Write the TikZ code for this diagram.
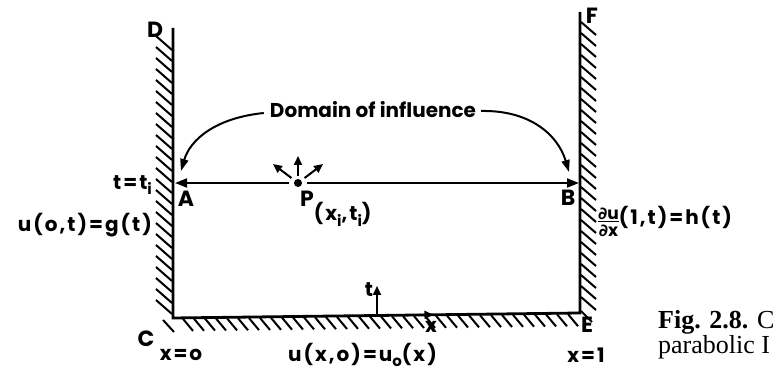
\documentclass[tikz,border=0pt]{standalone}
\usepackage{fontspec}
\setmainfont{Liberation Serif}
\setsansfont{Poppins}
\newfontfamily\spaced{Poppins}[LetterSpace=10]
\newfontfamily\dvs{DejaVu Sans}
\usetikzlibrary{arrows.meta,calc}
\newcommand{\lowsub}[1]{\raisebox{-0.5ex}{\fontsize{15}{15}\selectfont #1}}
\begin{document}
\begin{tikzpicture}[x=1pt,y=-1pt,
  wall/.style={line width=2.8pt},
  hatch/.style={line width=2pt},
  lbl/.style={font=\sffamily\bfseries\fontsize{20}{20}\selectfont, inner sep=0pt},
  flbl/.style={font=\spaced\bfseries\fontsize{20}{20}\selectfont, inner sep=0pt},
  big/.style={font=\sffamily\bfseries\fontsize{22}{22}\selectfont, inner sep=0pt},
  captxt/.style={font=\fontsize{26}{26}\selectfont, inner sep=0pt, anchor=base west},
  arr/.style={line width=2pt,-{Triangle[length=12pt,width=9pt]}},
  sarr/.style={line width=2pt,-{Triangle[length=9pt,width=8pt]}},
  curv/.style={line width=2pt,-{Triangle[length=12pt,width=8pt]}},
]
\useasboundingbox (0,0) rectangle (780,371);
% corners
\coordinate (D) at (173,28);
\coordinate (C) at (173,318);
\coordinate (E) at (580,313);
\coordinate (F) at (580,12);
% hatching
\foreach \y in {36,47,...,310} \draw[hatch] (156,\y) -- (172,{\y+14});
\foreach \y in {22,33,...,300} \draw[hatch] (581,\y) -- (596,{\y+13});
\foreach \x in {183,194,...,575} {
  \pgfmathsetmacro\yy{318-5*(\x-173)/407}
  \draw[hatch] (\x,\yy+1) -- (\x+10,\yy+13);
}
\draw[hatch] (163,320) -- (174,332);
\draw[hatch] (581,311) -- (592,322);
% walls
\draw[wall, line join=miter] (D) -- (C) -- (E) -- (F);
% x arrow on the bottom line
\coordinate (Xs) at ($(C)!0.6!(E)$);
\coordinate (Xa) at ($(C)!0.64!(E)$);
\draw[sarr] (Xs) -- (Xa);
% t arrow
\coordinate (Tb) at (377,316);
\coordinate (Tt) at (377,286);
\draw[sarr] (Tb) -- (Tt);
% point P and characteristics
\node[circle, fill, inner sep=0pt, minimum size=8pt] (P) at (298,183) {};
\coordinate (A) at (175,183);
\coordinate (B) at (579,183);
\draw[arr, shorten <=5pt] (P) -- (A);
\draw[arr, shorten <=5pt] (P) -- (B);
\coordinate (Pu) at (298,156);
\coordinate (Pl) at (273,164);
\coordinate (Pr) at (323,164);
\draw[sarr, shorten <=3pt] (P) -- (Pu);
\draw[sarr, shorten <=4pt] (P) -- (Pl);
\draw[sarr, shorten <=4pt] (P) -- (Pr);
% domain of influence
\node[lbl] (dom) at (373,110) {Domain of influence};
\coordinate (Al) at (181,171);
\coordinate (Br) at (569,172);
\draw[curv] ([xshift=-6pt,yshift=-3pt]dom.west) .. controls (215,118) and (190,140) .. (Al);
\draw[curv] ([xshift=5pt,yshift=-1pt]dom.east) .. controls (530,110) and (558,135) .. (Br);
% labels
\node[big] (lD) at (155,30) {D};
\node[big] (lF) at (592,16) {F};
\node[big] (lC) at (146,339) {C};
\node[big] (lE) at (587,325) {E};
\node[flbl, anchor=east] (tti) at (152,185) {t=t\lowsub{i}};
\node[big] (lA) at (186,199) {A};
\node[big, anchor=base west] (lP) at (300,207) {P\raisebox{-1.1ex}{\spaced\fontsize{20}{20}\selectfont (x\lowsub{i},t\lowsub{i})}};
\node[big] (lB) at (568,198) {B};
\node[flbl, anchor=east] (g) at (152,225) {u(o,t)=g(t)};
\node[flbl, anchor=west] (h) at (598,224) {\begin{tabular}{@{}c@{}}\fontsize{17}{17}\selectfont{\dvs\bfseries ∂}u\\[-4pt]\hline\noalign{\vskip1pt}\fontsize{17}{17}\selectfont{\dvs\bfseries ∂}x\end{tabular}\raisebox{0.4ex}{(1,t)=h(t)}};
\node[flbl] (x0) at (181,355) {x=o};
\node[flbl, anchor=west] (u0) at (288,355) {u(x,o)=u\lowsub{o}(x)};
\node[flbl] (x1) at (586,355) {x=1};
\node[lbl] (tl) at (369,290) {t};
\node[lbl] (xl) at (431,327) {x};
% caption (cut off at the right edge)
\begin{scope}
\clip (0,0) rectangle (780,371);
\node[captxt] (c1) at (658,329) {\textbf{Fig. 2.8.} C};
\node[captxt] (c2) at (658,354) {parabolic I};
\end{scope}
\end{tikzpicture}
\end{document}
